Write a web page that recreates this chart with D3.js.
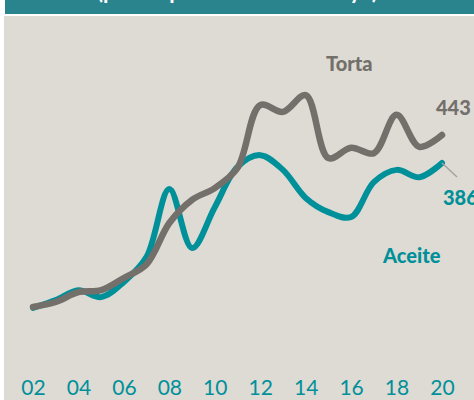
<!DOCTYPE html>
<html>
<head>
<meta charset="utf-8">
<title>Torta y Aceite</title>
<style>
  body { margin: 0; background: #fff; }
  svg { display: block; }
</style>
</head>
<body>
<script src="https://cdn.jsdelivr.net/npm/d3@7/dist/d3.min.js"></script>
<script>
// years 2002..2020
var years = d3.range(2002, 2021);
var tickYears = [2002, 2004, 2006, 2008, 2010, 2012, 2014, 2016, 2018, 2020];

// values (same scale for both)
var torta  = [93, 103, 123, 127, 152, 180, 264, 311, 335, 376, 504, 490, 524, 396, 417, 406, 484, 419, 443];
var aceite = [91, 107, 127, 113, 144, 195, 333, 213, 296, 378, 402, 372, 315, 286, 276, 347, 372, 357, 386];

var width = 474, height = 400;
var teal = "#00909a", grey = "#736f6b";

var svg = d3.select("body").append("svg")
    .attr("width", width)
    .attr("height", height);

// header bar (title is mostly cut off)
svg.append("rect")
    .attr("x", 5).attr("y", 0)
    .attr("width", width - 5).attr("height", 14)
    .style("fill", "#2a848d");

svg.append("text")
    .attr("x", 240).attr("y", -1.5)
    .attr("text-anchor", "middle")
    .style("font-family", "Lato, 'Open Sans', sans-serif")
    .style("font-weight", "bold")
    .style("font-size", "22px")
    .style("fill", "#fff")
    .text("(precio por tonelada de soya).");

// plot background
svg.append("rect")
    .attr("x", 4).attr("y", 16)
    .attr("width", width - 4).attr("height", height - 16)
    .style("fill", "#dedbd4");

var x = d3.scaleLinear().domain([2002, 2020]).range([33, 442]);
var y = d3.scaleLinear().domain([100, 443]).range([303.5, 135]);

var line = function(vals) {
    return d3.line()
        .x(function(d, i) { return x(years[i]); })
        .y(function(d) { return y(d); })
        .curve(d3.curveCatmullRom.alpha(0.5))(vals);
};

svg.append("path")
    .attr("d", line(aceite))
    .style("fill", "none")
    .style("stroke", teal)
    .style("stroke-width", 6)
    .style("stroke-linecap", "round");

svg.append("path")
    .attr("d", line(torta))
    .style("fill", "none")
    .style("stroke", grey)
    .style("stroke-width", 6.5)
    .style("stroke-linecap", "round");

// x axis labels
var xAxis = d3.axisBottom(x)
    .tickValues(tickYears)
    .tickSize(0)
    .tickPadding(0)
    .tickFormat(function(d) { return d3.format("02d")(d % 100); });

var gx = svg.append("g")
    .attr("transform", "translate(0,380)")
    .call(xAxis);
gx.select(".domain").remove();
gx.selectAll("text")
    .attr("dy", "0.71em")
    .attr("y", 0)
    .style("font-family", "Lato, 'Open Sans', sans-serif")
    .style("font-size", "21px")
    .style("fill", teal);

// series labels
var lbl = { "font-family": "Lato, 'Open Sans', sans-serif", "font-weight": "900", "font-size": "20px" };
function addLabel(tx, ty, str, col, anchor) {
    var t = svg.append("text")
        .attr("x", tx).attr("y", ty)
        .attr("text-anchor", anchor || "start")
        .style("fill", col)
        .text(str);
    Object.keys(lbl).forEach(function(k) { t.style(k, lbl[k]); });
}
addLabel(326, 71, "Torta", grey);
addLabel(383, 263, "Aceite", teal);
addLabel(436, 115, torta[torta.length - 1], grey);
addLabel(443, 205, aceite[aceite.length - 1], teal);

// leader line for the last value of Aceite
svg.append("line")
    .attr("x1", x(2020)).attr("y1", y(386))
    .attr("x2", 457).attr("y2", 177)
    .style("stroke", "#a5a29e")
    .style("stroke-width", 1.5);
</script>
</body>
</html>
